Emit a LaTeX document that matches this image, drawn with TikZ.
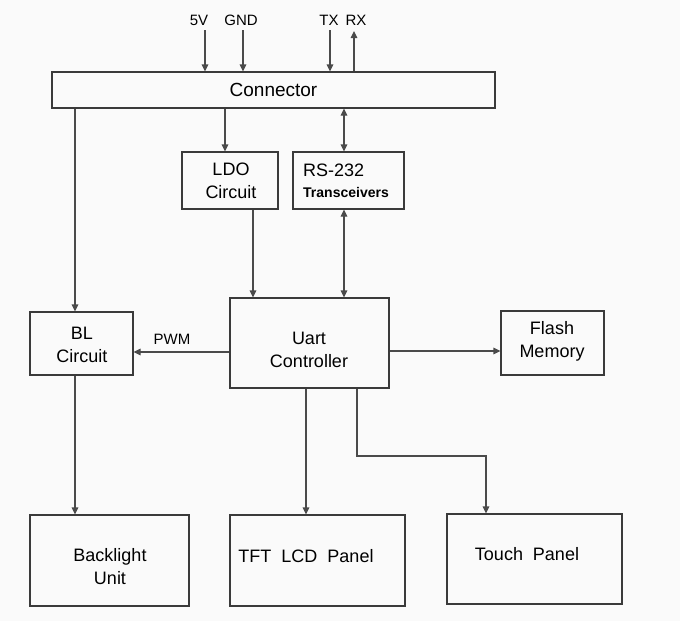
\documentclass[tikz,border=0pt]{standalone}
\usepackage{fontspec}
\setmainfont{Liberation Sans}
\usetikzlibrary{arrows.meta}
\definecolor{bgc}{HTML}{FAFAFA}
\definecolor{boxc}{HTML}{3A3A3A}
\definecolor{linec}{HTML}{4A4A4A}
\tikzset{
  box/.style={draw=boxc, line width=1.1pt, fill=bgc, inner sep=0pt},
  conn/.style={draw=linec, line width=1.1pt, -{Triangle[length=7pt,width=6.5pt]}},
  biconn/.style={draw=linec, line width=1.1pt, {Triangle[length=7pt,width=6.5pt]}-{Triangle[length=7pt,width=6.5pt]}},
  lbl/.style={font=\fontsize{18}{23}\selectfont, align=center, inner sep=0pt},
  sig/.style={font=\fontsize{15}{18}\selectfont, inner sep=0pt},
}
\begin{document}
\begin{tikzpicture}[x=1pt,y=-1pt]
\fill[bgc] (0,0) rectangle (680,621);
\useasboundingbox (0,0) rectangle (680,621);

% boxes
\node[box, minimum width=443pt, minimum height=36pt] (connb) at (273.5,90) {};
\node[box, minimum width=96pt, minimum height=57pt] (ldo) at (230,180.5) {};
\node[box, minimum width=111pt, minimum height=57pt] (rs) at (348.5,180.5) {};
\node[box, minimum width=103pt, minimum height=63pt] (bl) at (81.5,343.5) {};
\node[box, minimum width=159pt, minimum height=90pt] (uart) at (309.5,343) {};
\node[box, minimum width=103pt, minimum height=64pt] (flash) at (552.5,343) {};
\node[box, minimum width=159pt, minimum height=91pt] (blu) at (109.5,560.5) {};
\node[box, minimum width=175pt, minimum height=91pt] (tft) at (317.5,560.5) {};
\node[box, minimum width=175pt, minimum height=90pt] (touch) at (534.5,559) {};

% texts
\node[lbl, font=\fontsize{19}{23}\selectfont] (tconn) at (273.5,90) {Connector};
\node[lbl] (tldo) at (231,181) {LDO\\Circuit};
\node[lbl, align=left, anchor=west] (trs) at (303,181) {RS-232\\[-2pt]{\fontsize{14}{18}\selectfont\bfseries Transceivers}};
\node[lbl] (tbl) at (82,345) {BL\\Circuit};
\node[lbl] (tuart) at (309,350) {Uart\\Controller};
\node[lbl] (tflash) at (552,341) {Flash\\Memory};
\node[lbl] (tblu) at (110,567) {Backlight\\Unit};
\node[lbl] (ttft) at (306,556) {TFT\ \ LCD\ \ Panel};
\node[lbl] (ttouch) at (527,554) {Touch\ \ Panel};
\node[sig] (tpwm) at (172,339) {PWM};

% signals on top
\node[sig] (l5v) at (199,20) {5V};
\node[sig] (lgnd) at (241,20) {GND};
\node[sig] (ltx) at (329,20) {TX};
\node[sig] (lrx) at (356,20) {RX};
\coordinate (v5) at (205,30);
\coordinate (gnd) at (243,30);
\coordinate (tx) at (330,30);
\coordinate (rx) at (354,31);
\draw[conn] (v5) -- (v5 |- connb.north);
\draw[conn] (gnd) -- (gnd |- connb.north);
\draw[conn] (tx) -- (tx |- connb.north);
\draw[conn] (rx |- connb.north) -- (rx);

% internal connectors
\coordinate (a1) at (225,0);
\coordinate (a2) at (344,0);
\coordinate (a3) at (253,0);
\coordinate (a4) at (75,0);
\coordinate (a5) at (0,352);
\coordinate (a6) at (0,351);
\coordinate (a7) at (306,0);
\coordinate (a8) at (357,0);
\coordinate (a9) at (0,456);
\coordinate (a10) at (486,0);

\draw[conn] (a1 |- connb.south) -- (a1 |- ldo.north);
\draw[biconn] (a2 |- connb.south) -- (a2 |- rs.north);
\draw[biconn] (a2 |- rs.south) -- (a2 |- uart.north);
\draw[conn] (a3 |- ldo.south) -- (a3 |- uart.north);
\draw[conn] (a4 |- connb.south) -- (a4 |- bl.north);
\draw[conn] (a5 -| uart.west) -- (a5 -| bl.east);
\draw[conn] (a6 -| uart.east) -- (a6 -| flash.west);
\draw[conn] (a4 |- bl.south) -- (a4 |- blu.north);
\draw[conn] (a7 |- uart.south) -- (a7 |- tft.north);
\draw[conn] (a8 |- uart.south) -- (a8 |- a9) -- (a10 |- a9) -- (a10 |- touch.north);
\end{tikzpicture}
\end{document}
